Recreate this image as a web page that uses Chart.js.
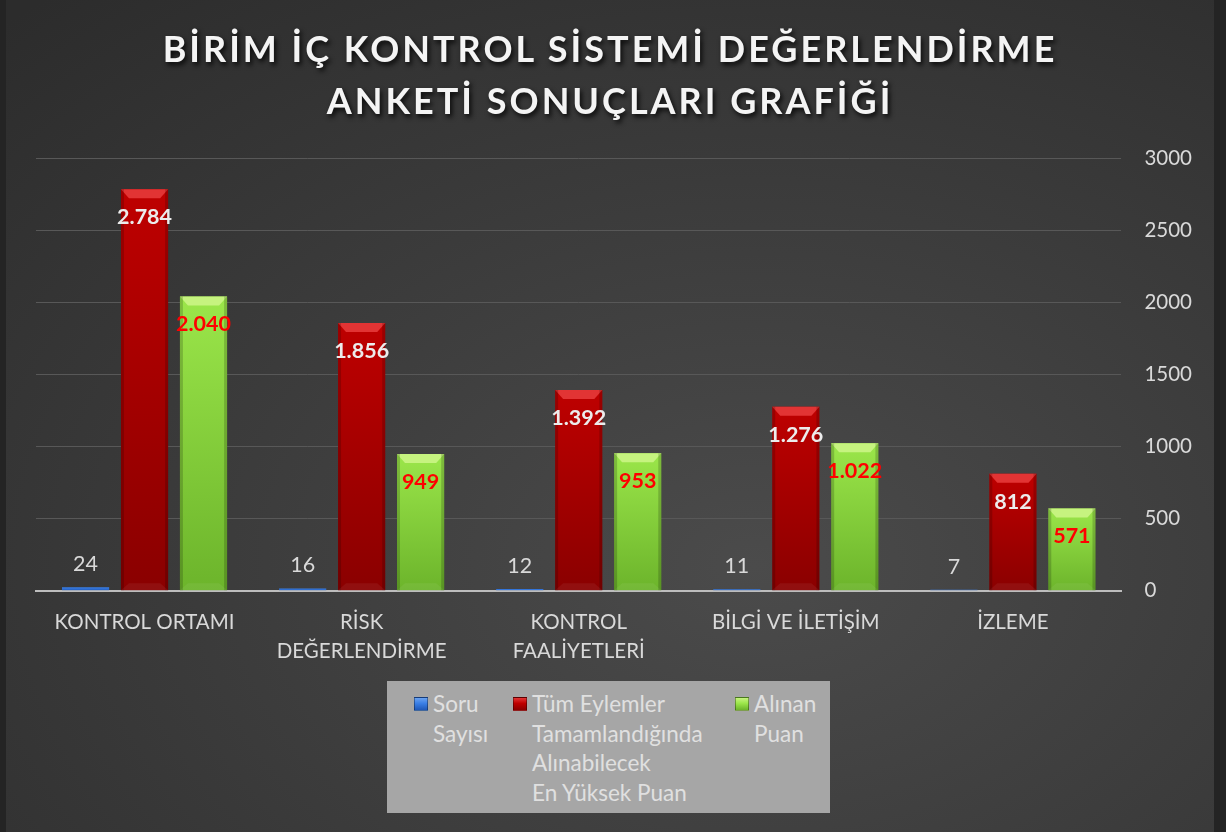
<!DOCTYPE html>
<html lang="tr">
<head>
<meta charset="utf-8">
<title>Birim İç Kontrol Sistemi Değerlendirme Anketi Sonuçları Grafiği</title>
<script src="https://cdn.jsdelivr.net/npm/chart.js@4/dist/chart.umd.min.js"></script>
<style>
    html, body {
        margin: 0;
        padding: 0;
        width: 1226px;
        height: 832px;
        overflow: hidden;
        background: #2a2a2a;
    }
    #frame {
        position: relative;
        width: 1226px;
        height: 832px;
        box-sizing: border-box;
        border-left: 6px solid #242424;
        border-right: 12px solid #242424;
        background: radial-gradient(ellipse 90% 90% at 62% 68%, #4b4b4b 0%, #3d3d3d 45%, #2c2c2c 100%);
        font-family: Lato, "Open Sans", sans-serif;
    }
    #chart-title {
        position: absolute;
        left: 0;
        right: 0;
        top: 22px;
        text-align: center;
        color: #f4f4f4;
        font-weight: 700;
        font-size: 36px;
        line-height: 52px;
        letter-spacing: 3px;
        text-shadow: 2px 3px 5px rgba(0, 0, 0, 0.85);
        z-index: 2;
        pointer-events: none;
    }
    #chart-box {
        position: absolute;
        left: -6px;
        top: 0;
        width: 1226px;
        height: 832px;
    }
    #legend {
        position: absolute;
        left: 381px;
        top: 681px;
        width: 443px;
        height: 132px;
        background: #a6a6a6;
        box-sizing: border-box;
        padding: 8px 0 0 27px;
        display: flex;
        z-index: 2;
    }
    .lg-item {
        display: flex;
        align-items: flex-start;
        flex: none;
    }
    .lg-mark {
        width: 14px;
        height: 14px;
        margin-top: 8px;
        box-sizing: border-box;
        flex: none;
    }
    .lg-text {
        margin-left: 5px;
        color: #e0e0e0;
        font-size: 22.5px;
        line-height: 29.5px;
        white-space: nowrap;
    }
</style>
</head>
<body>
<div id="frame">
    <div id="chart-title">BİRİM İÇ KONTROL SİSTEMİ DEĞERLENDİRME<br>ANKETİ SONUÇLARI GRAFİĞİ</div>
    <div id="chart-box"><canvas id="anket-chart" width="1226" height="832"></canvas></div>
    <div id="legend"></div>
</div>

<script>
// ---- data ----
const categories = [
    ['KONTROL ORTAMI'],
    ['RİSK', 'DEĞERLENDİRME'],
    ['KONTROL', 'FAALİYETLERİ'],
    ['BİLGİ VE İLETİŞİM'],
    ['İZLEME']
];
const soruSayisi = [24, 16, 12, 11, 7];
const enYuksekPuan = [2784, 1856, 1392, 1276, 812];
const alinanPuan = [2040, 949, 953, 1022, 571];
const seriesNames = [
    'Soru Sayısı',
    'Tüm Eylemler Tamamlandığında Alınabilecek En Yüksek Puan',
    'Alınan Puan'
];
// legend text as it wraps in the picture
const legendLines = [
    ['Soru', 'Sayısı'],
    ['Tüm Eylemler', 'Tamamlandığında', 'Alınabilecek', 'En Yüksek Puan'],
    ['Alınan', 'Puan']
];
const yMax = 3000;
const yStep = 500;

// ---- styles per series ----
const seriesStyle = [
    { top: '#3a7fe6', bottom: '#1f58b8', bevel: '#6aa2f0', label: '#d9d9d9', weight: 'normal', place: 'above', legendWidth: 99 },
    { top: '#be0000', bottom: '#8a0000', bevel: '#e23434', label: '#ececec', weight: 'bold', place: 'inside', legendWidth: 222 },
    { top: '#9be64a', bottom: '#6cb42b', bevel: '#c6f37f', label: '#ff0000', weight: 'bold', place: 'inside', legendWidth: 90 }
];

function formatTr(v) {
    return String(v).replace(/\B(?=(\d{3})+(?!\d))/g, '.');
}

/**
 * Vertical gradient for each single bar
 */
function barGradient(idx) {
    return function(context) {
        const chart = context.chart;
        const st = seriesStyle[idx];
        const yScale = chart.scales.y;
        if (!chart.chartArea || !yScale || context.raw === undefined) {
            return st.top;
        }
        const top = yScale.getPixelForValue(context.raw);
        const bottom = yScale.getPixelForValue(0);
        if (!isFinite(top) || bottom - top < 1) {
            return st.top;
        }
        const g = chart.ctx.createLinearGradient(0, top, 0, bottom);
        g.addColorStop(0, st.top);
        g.addColorStop(1, st.bottom);
        return g;
    };
}

// bevel highlights + value labels
const barDecorPlugin = {
    id: 'barDecor',
    afterDatasetsDraw(chart) {
        const ctx = chart.ctx;
        chart.data.datasets.forEach((ds, i) => {
            const meta = chart.getDatasetMeta(i);
            const st = seriesStyle[i];
            meta.data.forEach((bar, j) => {
                const p = bar.getProps(['x', 'y', 'base', 'width'], true);
                const left = p.x - p.width / 2;
                const right = p.x + p.width / 2;
                const h = p.base - p.y;
                if (h > 12) {
                    // top bevel
                    ctx.save();
                    ctx.fillStyle = st.bevel;
                    ctx.beginPath();
                    ctx.moveTo(left, p.y);
                    ctx.lineTo(right, p.y);
                    ctx.lineTo(right - 8, p.y + 9);
                    ctx.lineTo(left + 8, p.y + 9);
                    ctx.closePath();
                    ctx.fill();
                    // darker sides
                    ctx.fillStyle = 'rgba(0,0,0,0.18)';
                    ctx.fillRect(left, p.y, 3, h);
                    ctx.fillRect(right - 3, p.y, 3, h);
                    // soft bottom bevel
                    ctx.fillStyle = 'rgba(255,255,255,0.06)';
                    ctx.beginPath();
                    ctx.moveTo(left + 8, p.base - 7);
                    ctx.lineTo(right - 8, p.base - 7);
                    ctx.lineTo(right, p.base);
                    ctx.lineTo(left, p.base);
                    ctx.closePath();
                    ctx.fill();
                    ctx.restore();
                }
                // value label
                ctx.save();
                ctx.font = st.weight + ' 21.5px Lato, "Open Sans", sans-serif';
                ctx.fillStyle = st.label;
                ctx.textAlign = 'center';
                ctx.textBaseline = 'middle';
                const ly = st.place === 'above' ? p.y - 23 : p.y + 28;
                ctx.fillText(formatTr(ds.data[j]), p.x, ly);
                ctx.restore();
            });
        });
    }
};

let anketChart = null;

/**
 * Build the chart
 */
function initAnketChart() {
    const ctx = document.getElementById('anket-chart');
    if (!ctx) {
        console.error('Canvas element not found');
        return;
    }

    const seriesValues = [soruSayisi, enYuksekPuan, alinanPuan];

    anketChart = new Chart(ctx, {
        type: 'bar',
        data: {
            labels: categories,
            datasets: seriesValues.map((vals, i) => ({
                label: seriesNames[i],
                data: vals,
                backgroundColor: barGradient(i),
                borderWidth: 0,
                barPercentage: 0.8,
                categoryPercentage: 0.815
            }))
        },
        options: {
            responsive: false,
            animation: false,
            layout: {
                padding: { top: 158, left: 36, right: 11, bottom: 157 }
            },
            plugins: {
                legend: { display: false },
                title: { display: false },
                tooltip: { enabled: false }
            },
            scales: {
                x: {
                    grid: { display: false },
                    border: { display: true, color: '#bdbdbd', width: 2 },
                    ticks: {
                        color: '#d9d9d9',
                        padding: 9,
                        maxRotation: 0,
                        autoSkip: false,
                        font: { family: 'Lato', size: 20.5, lineHeight: 1.42 }
                    }
                },
                y: {
                    position: 'right',
                    min: 0,
                    max: yMax,
                    grid: {
                        color: '#585858',
                        lineWidth: 1,
                        drawTicks: false
                    },
                    border: { display: false },
                    ticks: {
                        stepSize: yStep,
                        color: '#d9d9d9',
                        padding: 23,
                        font: { family: 'Lato', size: 20.5 },
                        callback: function(value) {
                            return String(value);
                        }
                    }
                }
            }
        },
        plugins: [barDecorPlugin]
    });
}

/**
 * HTML legend from the series names
 */
function buildLegend() {
    const box = document.getElementById('legend');
    legendLines.forEach((lines, i) => {
        const st = seriesStyle[i];
        const item = document.createElement('div');
        item.className = 'lg-item';
        item.style.width = st.legendWidth + 'px';
        item.title = seriesNames[i];
        const mark = document.createElement('div');
        mark.className = 'lg-mark';
        mark.style.background = 'linear-gradient(180deg, ' + st.bevel + ' 0%, ' + st.top + ' 45%, ' + st.bottom + ' 100%)';
        mark.style.border = '1px solid rgba(0,0,0,0.35)';
        const txt = document.createElement('div');
        txt.className = 'lg-text';
        lines.forEach((line, k) => {
            if (k > 0) txt.appendChild(document.createElement('br'));
            txt.appendChild(document.createTextNode(line));
        });
        item.appendChild(mark);
        item.appendChild(txt);
        box.appendChild(item);
    });
}

buildLegend();
initAnketChart();
</script>
</body>
</html>
